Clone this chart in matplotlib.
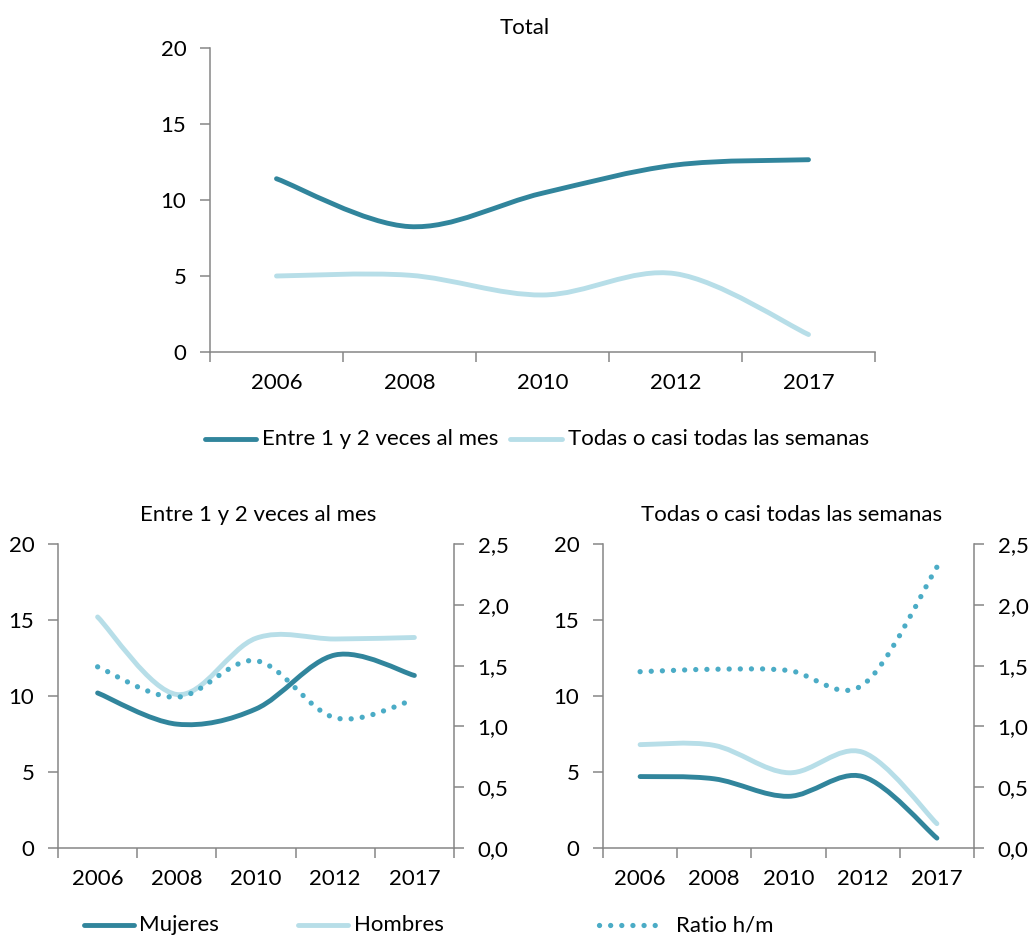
import numpy as np
import matplotlib
matplotlib.use("Agg")
import matplotlib.pyplot as plt
from matplotlib.path import Path
from matplotlib.patches import PathPatch
from matplotlib.lines import Line2D
from matplotlib.ticker import FuncFormatter

# ---------------- data ----------------
years = ["2006", "2008", "2010", "2012", "2017"]
total_mes = [11.4, 8.25, 10.45, 12.3, 12.65]
total_semanas = [5.0, 5.05, 3.75, 5.15, 1.15]
mes_mujeres = [10.2, 8.15, 9.15, 12.7, 11.35]
mes_hombres = [15.2, 10.1, 13.8, 13.75, 13.85]
mes_ratio = [1.49, 1.24, 1.54, 1.07, 1.22]
sem_mujeres = [4.7, 4.55, 3.4, 4.7, 0.65]
sem_hombres = [6.8, 6.75, 4.95, 6.3, 1.6]
sem_ratio = [1.45, 1.47, 1.46, 1.34, 2.31]

# ---------------- style ----------------
DARK = "#31859C"
LIGHT = "#B7DEE8"
DOTS = "#4BACC6"
GRAY = "#868686"
FONT = "Lato"
FS = 16
LW = 3.5
DOT_LS = (0, (0.01, 2.1))
plt.rcParams["font.family"] = [FONT, "DejaVu Sans"]
plt.rcParams["font.size"] = FS

W, H = 1029, 936
fig = plt.figure(figsize=(W / 100, H / 100), dpi=100)


def px_rect(x0, x1, ytop, ybot):
    return [x0 / W, 1 - ybot / H, (x1 - x0) / W, (ybot - ytop) / H]


def smooth_path(values):
    """Excel-like smoothed line: cubic Bezier through the points."""
    x = np.arange(len(values), dtype=float)
    y = np.asarray(values, dtype=float)
    P = np.column_stack([x, y])
    n = len(P)
    verts = [P[0]]
    codes = [Path.MOVETO]
    for i in range(n - 1):
        p_prev = P[i - 1] if i > 0 else P[i]
        p_next2 = P[i + 2] if i + 2 < n else P[i + 1]
        c1 = P[i] + (P[i + 1] - p_prev) / 6.0
        c2 = P[i + 1] - (p_next2 - P[i]) / 6.0
        verts += [c1, c2, P[i + 1]]
        codes += [Path.CURVE4] * 3
    return Path(verts, codes)


def draw_line(ax, values, color, lw, ls="-", z=3):
    patch = PathPatch(smooth_path(values), fill=False, edgecolor=color,
                      linewidth=lw, linestyle=ls, capstyle="round",
                      joinstyle="round", zorder=z)
    ax.add_patch(patch)


def style_axes(ax):
    ax.set_xlim(-0.5, 4.5)
    ax.set_ylim(0, 20)
    ax.set_yticks([0, 5, 10, 15, 20])
    ax.set_xticks(np.arange(-0.5, 5.0, 1.0))
    ax.set_xticklabels([])
    ax.set_xticks(range(5), minor=True)
    ax.set_xticklabels(years, minor=True)
    ax.tick_params(axis="x", which="major", length=7, width=1.1, color=GRAY,
                   direction="out")
    ax.tick_params(axis="x", which="minor", length=0, pad=15, labelsize=FS)
    ax.tick_params(axis="y", length=7, width=1.1, color=GRAY, pad=10,
                   labelsize=FS)
    for s in ["top", "right"]:
        ax.spines[s].set_visible(False)
    for s in ["left", "bottom"]:
        ax.spines[s].set_color(GRAY)
        ax.spines[s].set_linewidth(1.1)
    ax.patch.set_visible(False)


comma = FuncFormatter(lambda v, p: f"{v:.1f}".replace(".", ","))


def add_ratio_axis(ax, values):
    tw = ax.twinx()
    tw.set_ylim(0, 2.5)
    tw.set_yticks([0, 0.5, 1.0, 1.5, 2.0, 2.5])
    tw.yaxis.set_major_formatter(comma)
    tw.tick_params(axis="y", length=7, width=1.1, color=GRAY, pad=10,
                   labelsize=FS)
    for s in ["top", "left", "bottom"]:
        tw.spines[s].set_visible(False)
    tw.spines["right"].set_color(GRAY)
    tw.spines["right"].set_linewidth(1.1)
    draw_line(tw, values, DOTS, 3.8, ls=DOT_LS, z=4)
    return tw


# ---------------- top chart ----------------
ax_top = fig.add_axes(px_rect(210, 875, 48, 352))
style_axes(ax_top)
draw_line(ax_top, total_mes, DARK, LW)
draw_line(ax_top, total_semanas, LIGHT, LW)
fig.text(525 / W, 1 - 28 / H, "Total", ha="center", va="center", fontsize=FS)

# ---------------- bottom left ----------------
ax_bl = fig.add_axes(px_rect(58, 454, 544, 848))
style_axes(ax_bl)
draw_line(ax_bl, mes_mujeres, DARK, LW)
draw_line(ax_bl, mes_hombres, LIGHT, LW)
add_ratio_axis(ax_bl, mes_ratio)
fig.text(258 / W, 1 - 515 / H, "Entre 1 y 2 veces al mes", ha="center",
         va="center", fontsize=FS)

# ---------------- bottom right ----------------
ax_br = fig.add_axes(px_rect(603, 974, 544, 848))
style_axes(ax_br)
draw_line(ax_br, sem_mujeres, DARK, LW)
draw_line(ax_br, sem_hombres, LIGHT, LW)
add_ratio_axis(ax_br, sem_ratio)
fig.text(792 / W, 1 - 515 / H, "Todas o casi todas las semanas", ha="center",
         va="center", fontsize=FS)


# ---------------- legends ----------------
def legend_entry(x0, x1, y, color, lw, ls, label, tx):
    fig.add_artist(Line2D([x0 / W, x1 / W], [1 - y / H, 1 - y / H],
                          transform=fig.transFigure, color=color, lw=lw,
                          linestyle=ls, solid_capstyle="round",
                          dash_capstyle="round"))
    fig.text(tx / W, 1 - y / H, label, ha="left", va="center", fontsize=FS)


legend_entry(205, 256, 439, DARK, LW, "-", "Entre 1 y 2 veces al mes", 262)
legend_entry(510, 562, 439, LIGHT, LW, "-", "Todas o casi todas las semanas", 568)
legend_entry(84, 134, 925, DARK, LW, "-", "Mujeres", 139)
legend_entry(298, 348, 925, LIGHT, LW, "-", "Hombres", 354)
legend_entry(599, 660, 925, DOTS, 3.8, DOT_LS, "Ratio h/m", 676)

fig.savefig("out.png", dpi=100)
